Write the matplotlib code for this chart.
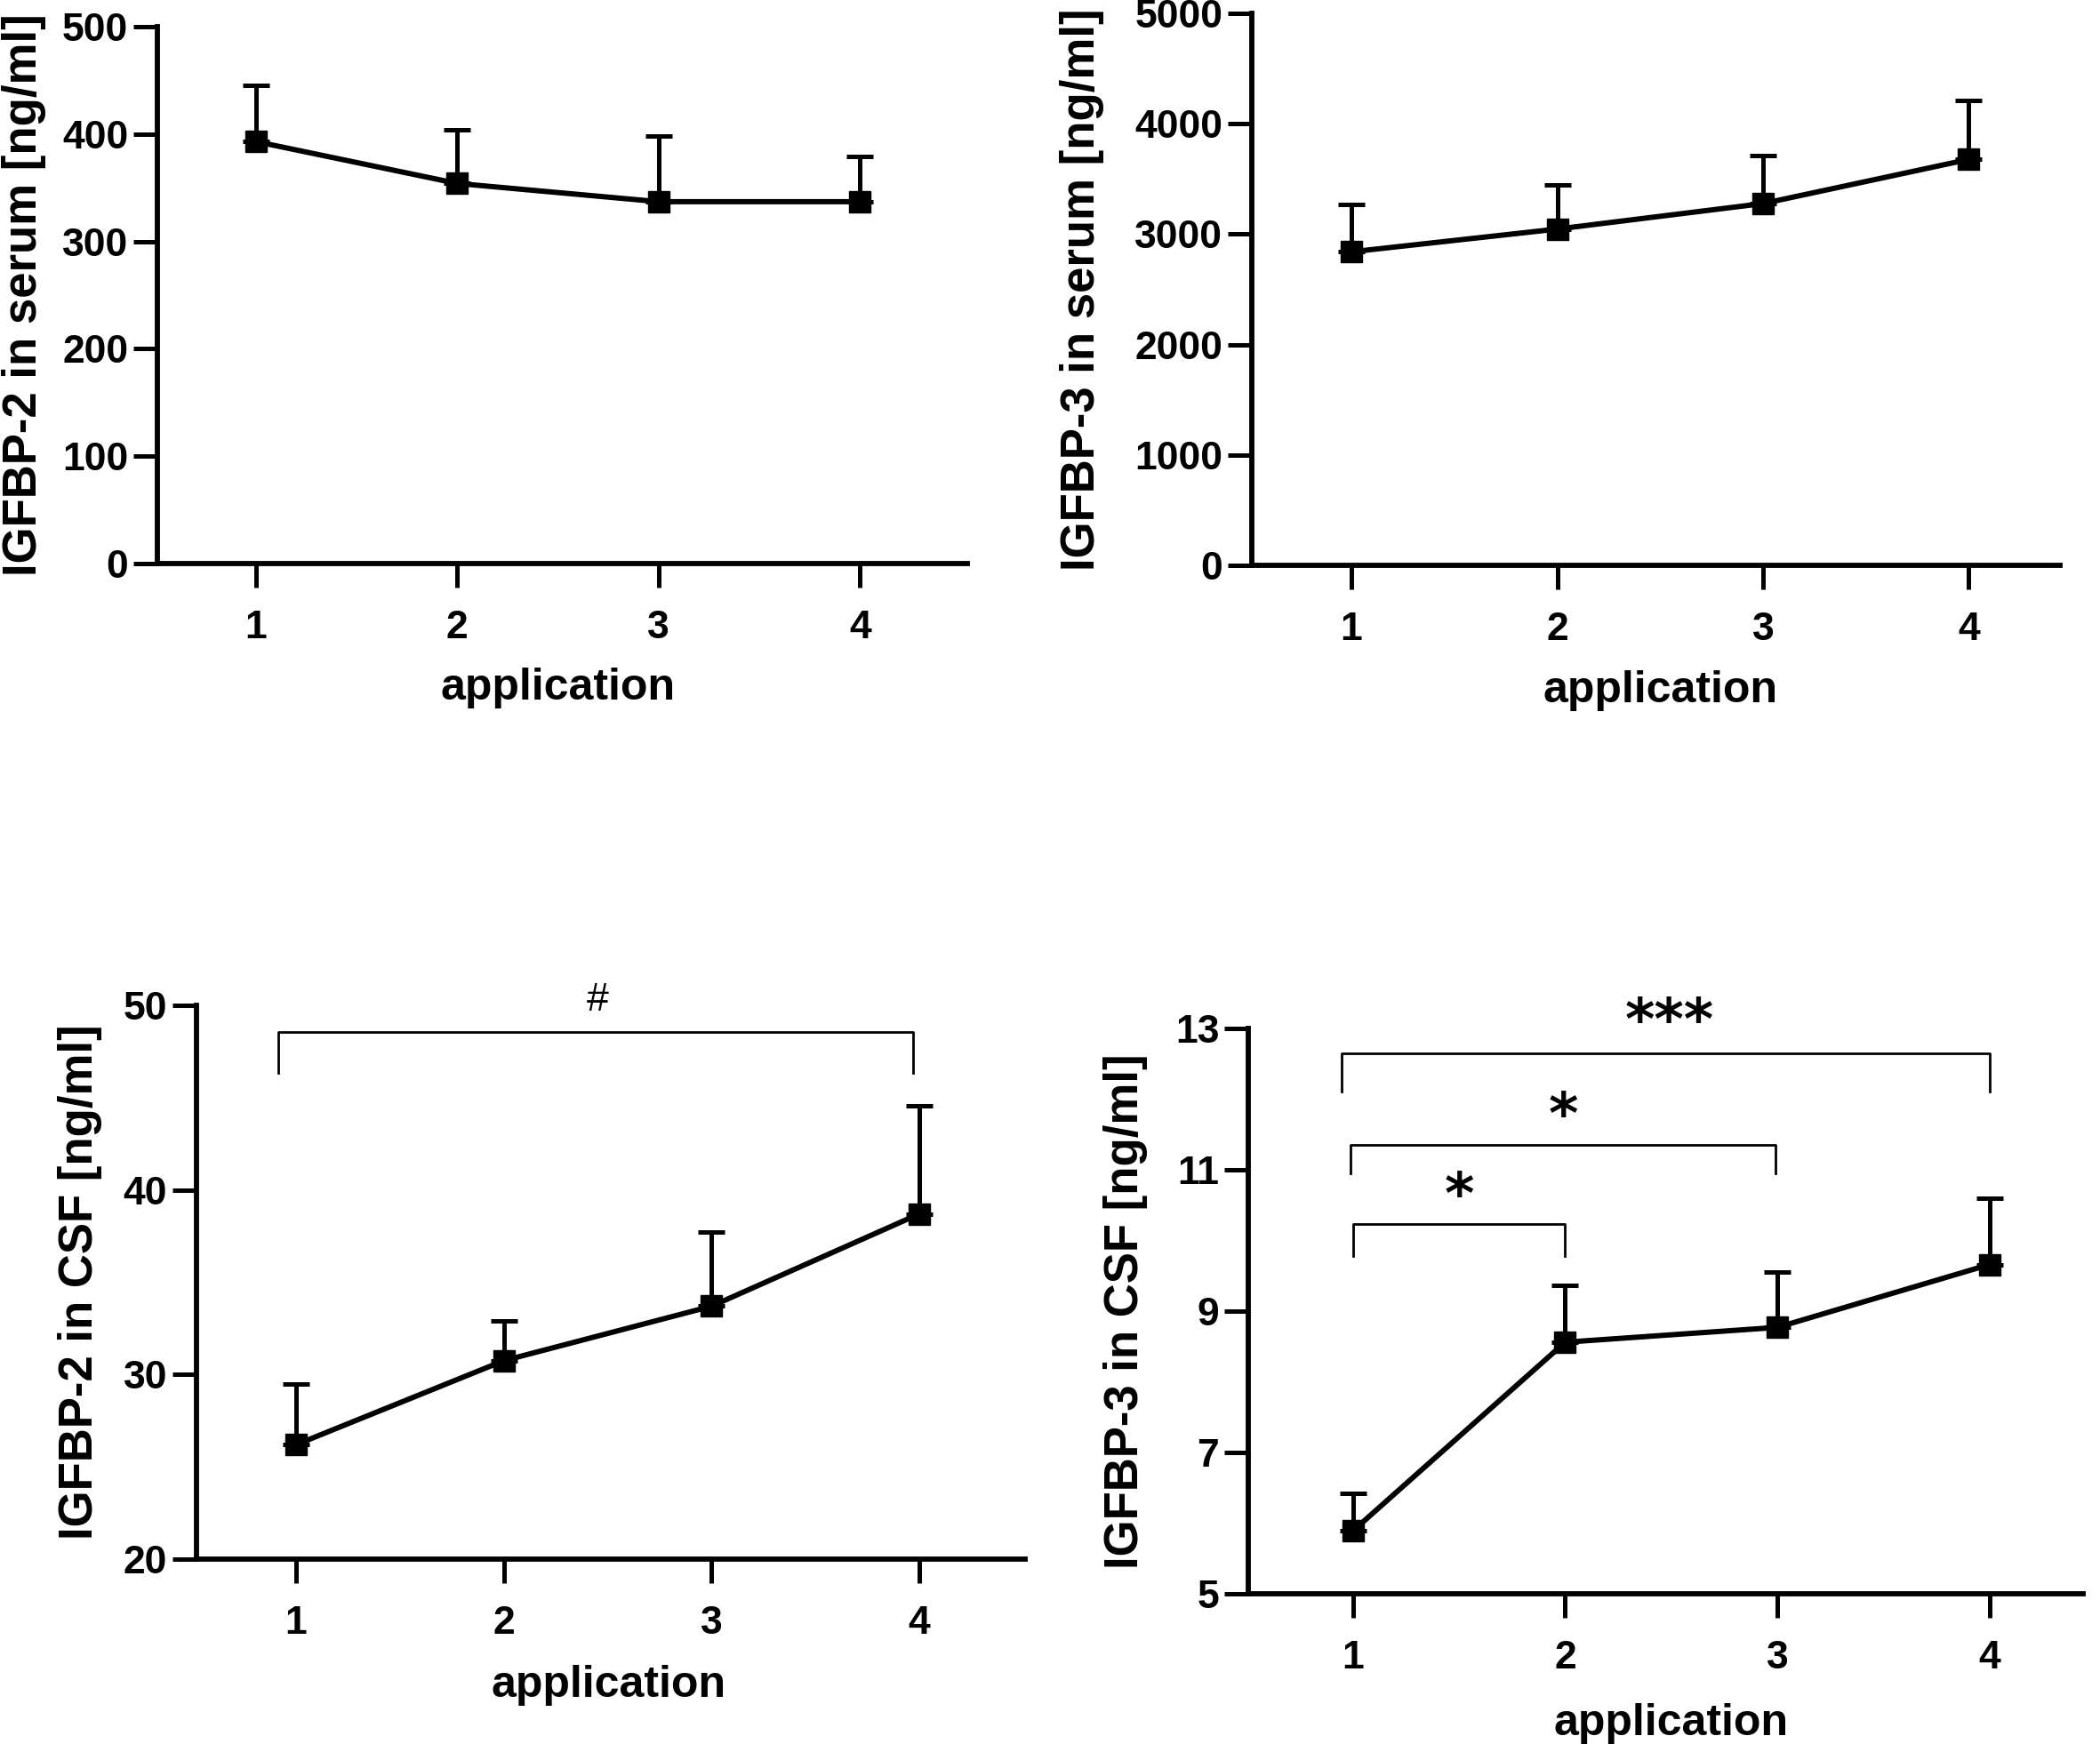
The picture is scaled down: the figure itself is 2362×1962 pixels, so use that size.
import numpy as np
import matplotlib
matplotlib.use("Agg")
import matplotlib.pyplot as plt

plt.rcParams['font.family'] = ['Liberation Sans', 'DejaVu Sans']

W, H = 2362, 1962

applications = [1, 2, 3, 4]
xtick_labels = ["1", "2", "3", "4"]

# Panel A: IGFBP-2 in serum
a_mean = [393, 354, 337, 337]
a_err = [52, 50, 61, 42]
a_yticks = [0, 100, 200, 300, 400, 500]

# Panel B: IGFBP-3 in serum
b_mean = [2840, 3046, 3277, 3677]
b_err = [425, 401, 437, 534]
b_yticks = [0, 1000, 2000, 3000, 4000, 5000]

# Panel C: IGFBP-2 in CSF
c_mean = [26.2, 30.75, 33.7, 38.7]
c_err = [3.3, 2.15, 4.0, 5.85]
c_yticks = [20, 30, 40, 50]

# Panel D: IGFBP-3 in CSF
d_mean = [5.89, 8.56, 8.77, 9.66]
d_err = [0.53, 0.80, 0.78, 0.94]
d_yticks = [5, 7, 9, 11, 13]

# significance brackets: (x_start, x_end, y_bar, y_drop, label, label_x, label_y)
c_brackets = [(0.915, 3.97, 48.55, 46.34, "#", 2.45, 50.25)]
d_brackets = [
    (0.948, 4.0, 12.65, 12.11, "***", 2.49, 13.07),
    (0.99, 2.99, 11.35, 10.95, "*", 1.99, 11.74),
    (1.0, 2.0, 10.23, 9.78, "*", 1.50, 10.61),
]

panels = [
    dict(rect=(177, 1088, 30, 634), xlim=(0.511, 4.533), ylim=(0, 500),
         mean=a_mean, err=a_err, yticks=a_yticks,
         ylabel="IGFBP-2 in serum [ng/ml]", ylab_x=27, xlab=(628, 774), br=[]),
    dict(rect=(1408, 2317, 15, 636), xlim=(0.516, 4.443), ylim=(0, 5000),
         mean=b_mean, err=b_err, yticks=b_yticks,
         ylabel="IGFBP-3 in serum [ng/ml]", ylab_x=1217, xlab=(1868, 777), br=[]),
    dict(rect=(221, 1153, 1131, 1754), xlim=(0.52, 4.51), ylim=(20, 50),
         mean=c_mean, err=c_err, yticks=c_yticks,
         ylabel="IGFBP-2 in CSF [ng/ml]", ylab_x=90, xlab=(685, 1896), br=c_brackets),
    dict(rect=(1404, 2343, 1157, 1793), xlim=(0.507, 4.44), ylim=(5, 13),
         mean=d_mean, err=d_err, yticks=d_yticks,
         ylabel="IGFBP-3 in CSF [ng/ml]", ylab_x=1266, xlab=(1880, 1939), br=d_brackets),
]

fig = plt.figure(figsize=(W / 100, H / 100), dpi=100)

LW_AX = 4.2
LW_DATA = 4.3
LW_ERR = 3.6
for p in panels:
    l, r, t, b = p["rect"]
    ax = fig.add_axes([l / W, 1 - b / H, (r - l) / W, (b - t) / H])
    ax.set_xlim(*p["xlim"])
    ax.set_ylim(*p["ylim"])
    ax.errorbar(applications, p["mean"],
                yerr=[np.zeros(len(p["err"])), p["err"]],
                fmt='-s', color='black', lw=LW_DATA, ms=17.5, elinewidth=LW_ERR,
                capsize=11, capthick=LW_ERR, clip_on=False, zorder=3)
    for s in ["top", "right"]:
        ax.spines[s].set_visible(False)
    for s in ["left", "bottom"]:
        ax.spines[s].set_linewidth(LW_AX)
    ax.set_xticks(applications)
    ax.set_xticklabels(xtick_labels)
    ax.set_yticks(p["yticks"])
    ax.tick_params(axis='both', length=19.5, width=LW_ERR, labelsize=32)
    ax.tick_params(axis='x', pad=18)
    ax.tick_params(axis='y', pad=4)
    for lab in ax.get_xticklabels() + ax.get_yticklabels():
        lab.set_fontweight('bold')
    cy = 1 - (t + b) / 2 / H
    fig.text(p["ylab_x"] / W, cy, p["ylabel"], rotation=90, ha='center', va='center',
             fontsize=38, fontweight='bold')
    fig.text(p["xlab"][0] / W, 1 - p["xlab"][1] / H, "application", ha='center', va='center',
             fontsize=36, fontweight='bold')
    for (x0, x1, yb, yd, lab, lx, ly) in p["br"]:
        ax.plot([x0, x0, x1, x1], [yd, yb, yb, yd], color='black', lw=2.0, clip_on=False)
        if lab == "#":
            ax.text(lx, ly, lab, ha='center', va='center', fontsize=32, clip_on=False)
        else:
            ax.text(lx, ly, lab, ha='center', va='center', fontsize=46, fontweight='bold',
                    family=['DejaVu Sans'], clip_on=False)

fig.savefig("out.png", dpi=100)
